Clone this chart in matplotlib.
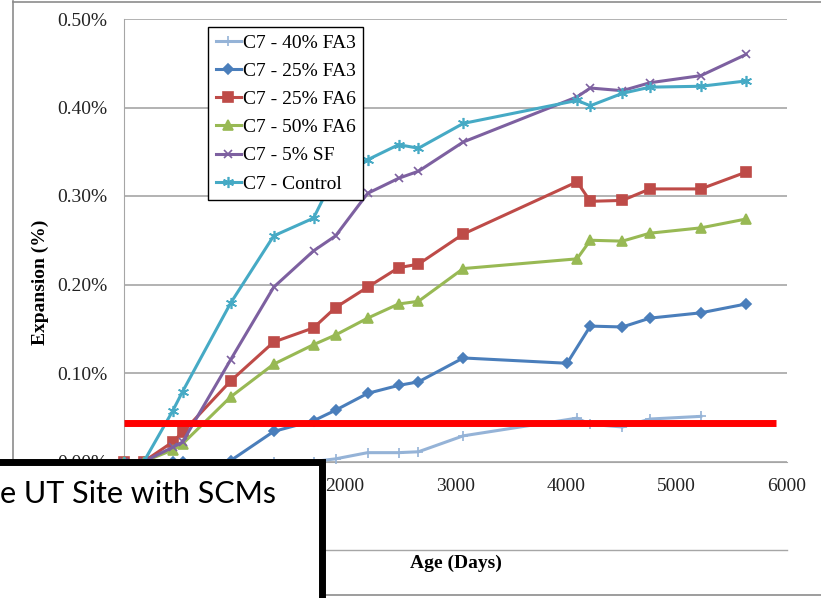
"""Expansion vs age for C7 concrete blocks with SCMs."""

import matplotlib.pyplot as plt
from matplotlib.lines import Line2D
from matplotlib.patches import Rectangle
from matplotlib.ticker import FuncFormatter

# Ages (days) of the common measurement dates
ages = [0, 180, 440, 530, 965, 1355, 1715, 1915, 2205, 2485, 2665, 3070,
        4100, 4220, 4510, 4760, 5220, 5630]

# Expansion (%) per mix
fa3_40_ages = [0, 180, 440, 530, 965, 1355, 1715, 1915, 2205, 2485, 2665, 3070,
               4100, 4220, 4510, 4760, 5220]
fa3_40 = [0.0, 0.0, 0.0, 0.0, 0.0, 0.0, 0.0, 0.003, 0.010, 0.010, 0.011, 0.029,
          0.049, 0.042, 0.039, 0.048, 0.051]

fa3_25_ages = [0, 180, 440, 530, 965, 1355, 1715, 1915, 2205, 2485, 2665, 3070,
               4010, 4220, 4510, 4760, 5220, 5630]
fa3_25 = [0.0, 0.0, 0.0, 0.0, 0.001, 0.034, 0.046, 0.058, 0.077, 0.086, 0.090, 0.117,
          0.111, 0.153, 0.152, 0.162, 0.168, 0.178]

fa6_25 = [0.0, 0.0, 0.022, 0.033, 0.091, 0.135, 0.151, 0.174, 0.197, 0.219, 0.223, 0.257,
          0.316, 0.294, 0.295, 0.308, 0.308, 0.327]
fa6_50 = [0.0, 0.0, 0.013, 0.020, 0.073, 0.110, 0.132, 0.143, 0.162, 0.178, 0.181, 0.218,
          0.229, 0.250, 0.249, 0.258, 0.264, 0.274]
sf_5 = [0.0, 0.0, 0.016, 0.022, 0.115, 0.197, 0.238, 0.255, 0.303, 0.320, 0.328, 0.361,
        0.412, 0.422, 0.419, 0.428, 0.436, 0.460]
control = [0.0, 0.0, 0.057, 0.079, 0.179, 0.255, 0.275, 0.325, 0.341, 0.358, 0.354, 0.382,
           0.408, 0.402, 0.416, 0.423, 0.424, 0.430]

limit_value = 0.044
limit_span = [0, 5900]

labels = ["C7 - 40% FA3", "C7 - 25% FA3", "C7 - 25% FA6",
          "C7 - 50% FA6", "C7 - 5% SF", "C7 - Control"]
y_ticks = [0.0, 0.1, 0.2, 0.3, 0.4, 0.5]
x_ticks = [0, 1000, 2000, 3000, 4000, 5000, 6000]

W, H = 821, 598
serif = ["Liberation Serif", "DejaVu Serif"]

fig = plt.figure(figsize=(W / 100, H / 100), dpi=100)
ax = fig.add_axes([124 / W, 1 - 461.5 / H, (787 - 124) / W, (461.5 - 19) / H])

series = [
    (fa3_40_ages, fa3_40, "#95b3d7", "+", 7, labels[0]),
    (fa3_25_ages, fa3_25, "#4a7ebb", "D", 5, labels[1]),
    (ages, fa6_25, "#be4b48", "s", 7, labels[2]),
    (ages, fa6_50, "#98b954", "^", 7, labels[3]),
    (ages, sf_5, "#7d60a0", "x", 6, labels[4]),
    (ages, control, "#46aac5", (6, 2, 0), 8, labels[5]),
]
for xs, ys, color, marker, ms, label in series:
    ax.plot(xs, ys, color=color, lw=2.2, marker=marker, ms=ms,
            mec=color, mfc=color, mew=1.2, label=label, clip_on=False, zorder=3)

ax.plot(limit_span, [limit_value, limit_value], color="#ff0000", lw=5, zorder=4,
        solid_capstyle="butt")

ax.set_xlim(0, 6000)
ax.set_ylim(0, 0.5)
ax.set_xticks(x_ticks)
ax.set_yticks(y_ticks)
ax.yaxis.set_major_formatter(FuncFormatter(lambda v, _: f"{v:.2f}%"))
ax.tick_params(length=0, labelsize=14, colors="#222222")
ax.tick_params(axis="x", pad=12)
ax.tick_params(axis="y", pad=12)
for lab in ax.get_xticklabels() + ax.get_yticklabels():
    lab.set_family(serif)
ax.grid(axis="y", color="#a6a6a6", lw=1.2)
ax.set_axisbelow(True)
for side in ("top", "right"):
    ax.spines[side].set_visible(False)
ax.spines["left"].set_color("#a6a6a6")
ax.spines["bottom"].set_color("#a6a6a6")

leg = ax.legend(loc="upper left", bbox_to_anchor=(0.127, 0.982), borderaxespad=0,
                prop={"family": serif, "size": 14}, frameon=True, fancybox=False,
                edgecolor="black", framealpha=1, handlelength=1.3, handletextpad=0.1,
                labelspacing=0.54, borderpad=0.38)
leg.get_frame().set_linewidth(1.0)

fig.text(40 / W, 1 - 282 / H, "Expansion (%)", rotation=90, ha="center", va="center",
         family=serif, fontsize=14, fontweight="bold")
fig.text(456 / W, 1 - 563 / H, "Age (Days)", ha="center", va="center",
         family=serif, fontsize=14, fontweight="bold")

# chart frame and lower rule
frame_kw = dict(transform=fig.transFigure, color="#8c8c8c", lw=1.2)
fig.add_artist(Line2D([13 / W, 13 / W], [1 - 1 / H, 1 - 595 / H], **frame_kw))
fig.add_artist(Line2D([13 / W, 1], [1 - 1.5 / H, 1 - 1.5 / H], **frame_kw))
fig.add_artist(Line2D([13 / W, 1], [1 - 595 / H, 1 - 595 / H], **frame_kw))
fig.add_artist(Line2D([124 / W, 787 / W], [1 - 550 / H, 1 - 550 / H],
                      transform=fig.transFigure, color="#a6a6a6", lw=1.0))

# caption box laid over the lower left corner
box = Rectangle((-20 / W, -20 / H), (322 + 20) / W, (20 + 598 - 461.5) / H,
                transform=fig.transFigure, facecolor="white", edgecolor="black",
                lw=5, zorder=10)
fig.add_artist(box)
fig.text(276 / W, 1 - 503 / H, "e UT Site with SCMs", ha="right", va="baseline",
         family=["Lato", "DejaVu Sans"], fontsize=22, zorder=11)

fig.savefig("out.png", dpi=100)
